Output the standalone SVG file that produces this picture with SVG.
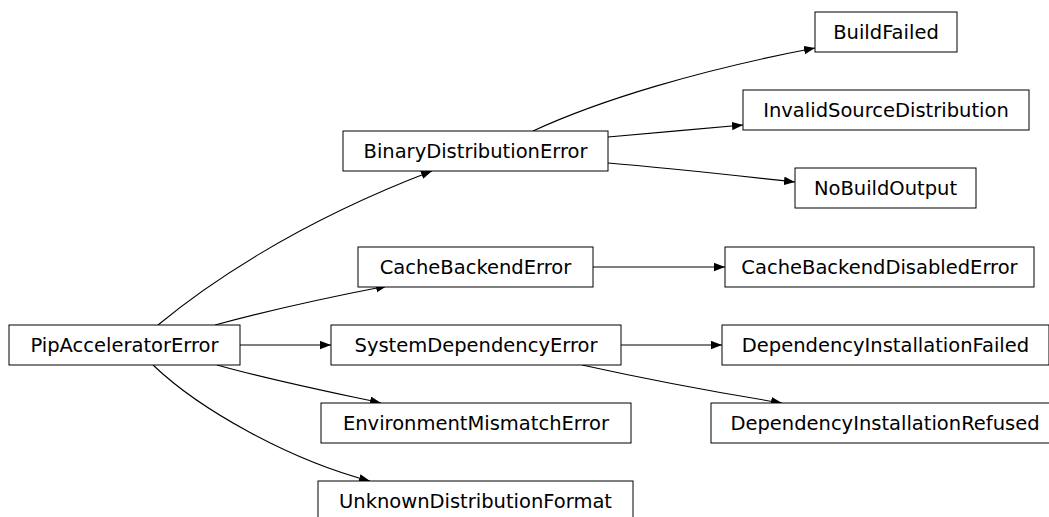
<svg xmlns="http://www.w3.org/2000/svg" width="1049" height="517" viewBox="0 0 1049 517">
<style>
rect{fill:#fff;stroke:#000;stroke-width:1}
text{font-family:"DejaVu Sans",sans-serif;font-size:19.5px;text-anchor:middle;fill:#000}
.e{fill:none;stroke:#000;stroke-width:1.1;marker-end:url(#a)}
</style>
<defs>
<marker id="a" markerUnits="userSpaceOnUse" markerWidth="12" markerHeight="9" refX="11" refY="4.2" orient="auto">
<path d="M0,0 L11,4.2 L0,8.4 z" fill="#000"/>
</marker>
</defs>
<g id="connectors">
<path class="e" d="M158,325 C200,290 290,225 432,171"/>
<path class="e" d="M215,325 C270,310 330,297 387,286"/>
<path class="e" d="M240,345 L331,345"/>
<path class="e" d="M217,365 C270,380 330,392 381,403"/>
<path class="e" d="M153,365 C200,410 290,460 370,481"/>
<path class="e" d="M533,131 C600,100 700,70 815,48"/>
<path class="e" d="M608,137 C650,133 700,129 743,125"/>
<path class="e" d="M608,163 C670,168 740,176 795,182"/>
<path class="e" d="M593,267 L725,267"/>
<path class="e" d="M621,345 L722,345"/>
<path class="e" d="M582,365 C650,380 720,393 782,403"/>
</g>
<g id="PipAcceleratorError"><rect x="9" y="325" width="231" height="40"/><text x="124.5" y="352">PipAcceleratorError</text></g>
<g id="BinaryDistributionError"><rect x="343" y="131" width="265" height="40"/><text x="475.5" y="158">BinaryDistributionError</text></g>
<g id="BuildFailed"><rect x="815" y="12" width="142" height="40"/><text x="886" y="39">BuildFailed</text></g>
<g id="InvalidSourceDistribution"><rect x="743" y="90" width="286" height="40"/><text x="886" y="117">InvalidSourceDistribution</text></g>
<g id="NoBuildOutput"><rect x="795" y="168" width="181" height="40"/><text x="885.5" y="195">NoBuildOutput</text></g>
<g id="CacheBackendError"><rect x="358" y="247" width="235" height="40"/><text x="475.5" y="274">CacheBackendError</text></g>
<g id="CacheBackendDisabledError"><rect x="725" y="247" width="309" height="40"/><text x="879.5" y="274">CacheBackendDisabledError</text></g>
<g id="SystemDependencyError"><rect x="331" y="325" width="290" height="40"/><text x="476" y="352">SystemDependencyError</text></g>
<g id="DependencyInstallationFailed"><rect x="722" y="325" width="327" height="40"/><text x="885.5" y="352">DependencyInstallationFailed</text></g>
<g id="EnvironmentMismatchError"><rect x="321" y="403" width="310" height="40"/><text x="476" y="430">EnvironmentMismatchError</text></g>
<g id="DependencyInstallationRefused"><rect x="711" y="403" width="348" height="40"/><text x="885" y="430">DependencyInstallationRefused</text></g>
<g id="UnknownDistributionFormat"><rect x="318" y="481" width="315" height="40"/><text x="475.5" y="508">UnknownDistributionFormat</text></g>
</svg>
